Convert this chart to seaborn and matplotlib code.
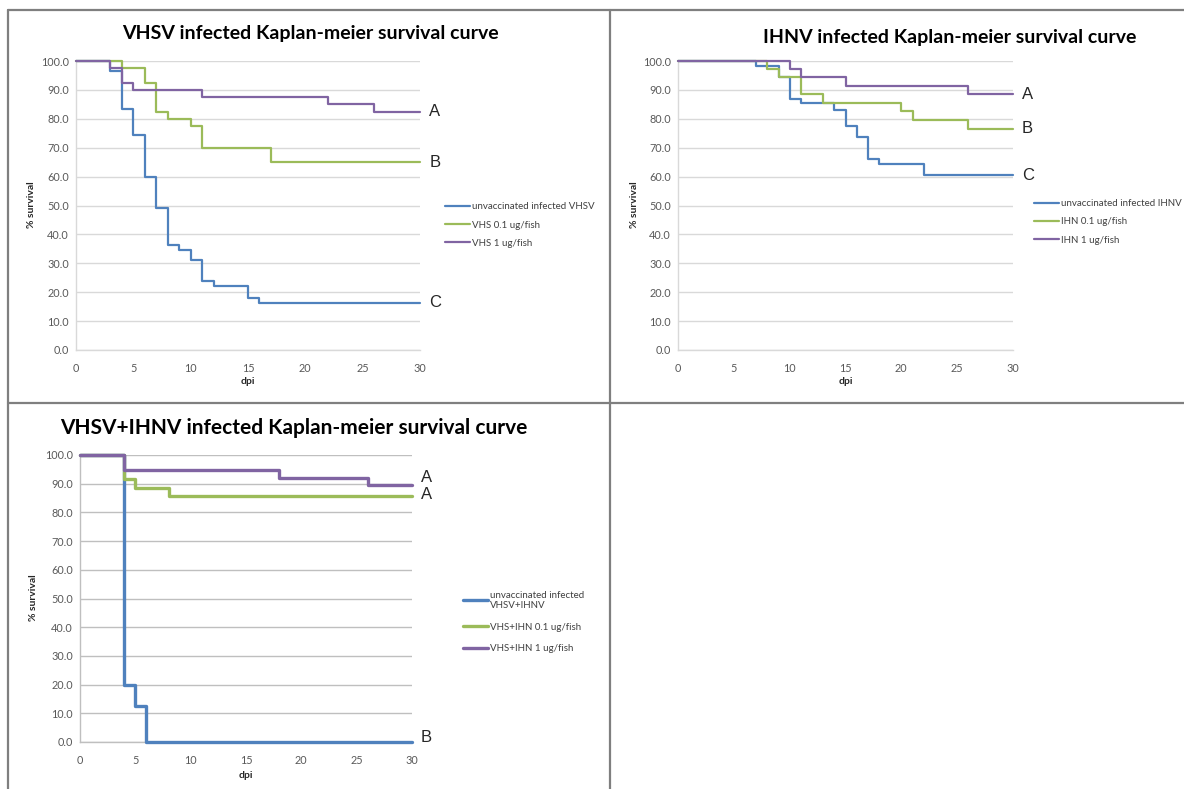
import matplotlib
matplotlib.use("Agg")
import matplotlib.pyplot as plt
from matplotlib.lines import Line2D
import seaborn as sns
import pandas as pd

# ---------------- data ----------------
days_vhsv_unvac = [0, 3, 4, 5, 6, 7, 8, 9, 10, 11, 12, 15, 16, 30]
surv_vhsv_unvac = [100, 96.5, 83.5, 74.5, 60, 49, 36.5, 34.5, 31, 24, 22, 18, 16.3, 16.3]
days_vhs01 = [0, 4, 6, 7, 8, 10, 11, 17, 30]
surv_vhs01 = [100, 97.5, 92.5, 82.5, 80, 77.5, 70, 65, 65]
days_vhs1 = [0, 3, 4, 5, 11, 22, 26, 30]
surv_vhs1 = [100, 97.5, 92.5, 90, 87.5, 85, 82.5, 82.5]

days_ihnv_unvac = [0, 7, 9, 10, 11, 14, 15, 16, 17, 18, 22, 30]
surv_ihnv_unvac = [100, 98.3, 94.6, 87, 85.3, 83.2, 77.5, 73.6, 66.2, 64.2, 60.4, 60.4]
days_ihn01 = [0, 8, 9, 11, 13, 20, 21, 26, 30]
surv_ihn01 = [100, 97.2, 94.4, 88.6, 85.5, 82.6, 79.7, 76.6, 76.6]
days_ihn1 = [0, 10, 11, 15, 26, 30]
surv_ihn1 = [100, 97.2, 94.4, 91.5, 88.5, 88.5]

days_mix_unvac = [0, 4, 5, 6, 30]
surv_mix_unvac = [100, 20, 12.5, 0, 0]
days_mix01 = [0, 4, 5, 8, 30]
surv_mix01 = [100, 91.5, 88.6, 85.7, 85.7]
days_mix1 = [0, 4, 18, 26, 30]
surv_mix1 = [100, 94.7, 92.1, 89.5, 89.5]

labels_vhsv = ["unvaccinated infected VHSV", "VHS 0.1 ug/fish", "VHS 1 ug/fish"]
labels_ihnv = ["unvaccinated infected IHNV", "IHN 0.1 ug/fish", "IHN 1 ug/fish"]
labels_mix = ["unvaccinated infected\nVHSV+IHNV", "VHS+IHN 0.1 ug/fish", "VHS+IHN 1 ug/fish"]

titles = ["VHSV infected Kaplan-meier survival curve",
          "IHNV infected Kaplan-meier survival curve",
          "VHSV+IHNV infected Kaplan-meier survival curve"]

# significance letters: (text, y position)
letters_vhsv = [("A", 82.5), ("B", 65), ("C", 16.3)]
letters_ihnv = [("A", 88.5), ("B", 76.6), ("C", 60.4)]
letters_mix = [("A", 92.3), ("A", 86.4), ("B", 1.7)]

yticks = [0, 10, 20, 30, 40, 50, 60, 70, 80, 90, 100]
xticks = [0, 5, 10, 15, 20, 25, 30]

colors = ["#4F81BD", "#9BBB59", "#8064A2"]


def make_df(series, labels):
    rows = []
    for (d, s), lab in zip(series, labels):
        for x, y in zip(d, s):
            rows.append({"dpi": x, "surv": y, "group": lab})
    return pd.DataFrame(rows)


df_vhsv = make_df([(days_vhsv_unvac, surv_vhsv_unvac), (days_vhs01, surv_vhs01),
                   (days_vhs1, surv_vhs1)], labels_vhsv)
df_ihnv = make_df([(days_ihnv_unvac, surv_ihnv_unvac), (days_ihn01, surv_ihn01),
                   (days_ihn1, surv_ihn1)], labels_ihnv)
df_mix = make_df([(days_mix_unvac, surv_mix_unvac), (days_mix01, surv_mix01),
                  (days_mix1, surv_mix1)], labels_mix)

# ---------------- figure ----------------
sns.set_theme(style="white")
plt.rcParams["font.family"] = ["Lato", "DejaVu Sans"]

W, H = 1184, 789
fig = plt.figure(figsize=(W / 100, H / 100), dpi=100)
fig.patch.set_facecolor("white")


def px_axes(x0, y0, x1, y1):
    return fig.add_axes([x0 / W, 1 - y1 / H, (x1 - x0) / W, (y1 - y0) / H])


panels = [
    dict(df=df_vhsv, labels=labels_vhsv, letters=letters_vhsv, box=(76, 61, 420, 350),
         title=titles[0], tpos=(310, 33), tsize=14, leg=(445, 225), grid="#D9D9D9", lw=1.6,
         ylab=(32, 205), xlab=(248, 381), lspace=0.95),
    dict(df=df_ihnv, labels=labels_ihnv, letters=letters_ihnv, box=(678, 61, 1013, 350),
         title=titles[1], tpos=(950, 37), tsize=14, leg=(1034, 222), grid="#D9D9D9", lw=1.6,
         ylab=(634, 205), xlab=(846, 381), lspace=0.95),
    dict(df=df_mix, labels=labels_mix, letters=letters_mix, box=(80, 455, 412, 742),
         title=titles[2], tpos=(294, 428), tsize=15, leg=(463, 622), grid="#BFBFBF", lw=2.4,
         ylab=(34, 598), xlab=(246, 776), lspace=1.3),
]

for p in panels:
    ax = px_axes(*p["box"])
    sns.lineplot(data=p["df"], x="dpi", y="surv", hue="group", hue_order=p["labels"],
                 palette=colors, drawstyle="steps-post", estimator=None, errorbar=None,
                 linewidth=p["lw"], ax=ax, legend=True, clip_on=False, zorder=4)
    ax.set_xlim(0, 30)
    ax.set_ylim(0, 100)
    ax.set_yticks(yticks)
    ax.set_yticklabels([f"{v:.1f}" for v in yticks])
    ax.set_xticks(xticks)
    ax.set_xticklabels([str(v) for v in xticks])
    ax.tick_params(axis="both", labelsize=7.8, labelcolor="#595959", length=0, pad=5)
    ax.tick_params(axis="x", length=3, color=p["grid"], direction="out", pad=6)
    ax.grid(axis="y", color=p["grid"], linewidth=1.0)
    ax.set_axisbelow(True)
    for side in ["top", "right"]:
        ax.spines[side].set_visible(False)
    ax.spines["left"].set_color(p["grid"])
    ax.spines["bottom"].set_color(p["grid"])
    ax.spines["left"].set_linewidth(1.0)
    ax.spines["bottom"].set_linewidth(1.0)
    ax.set_xlabel("")
    ax.set_ylabel("")
    fig.text(p["ylab"][0] / W, 1 - p["ylab"][1] / H, "% survival", rotation=90,
             ha="center", va="center", fontsize=7.5, fontweight="bold", color="#262626")
    fig.text(p["xlab"][0] / W, 1 - p["xlab"][1] / H, "dpi", ha="center", va="center",
             fontsize=7.5, fontweight="bold", color="#262626")
    fig.text(p["tpos"][0] / W, 1 - p["tpos"][1] / H, p["title"], ha="center", va="center",
             fontsize=p["tsize"], fontweight="bold", color="black")
    for txt, yv in p["letters"]:
        ax.text(30.8, yv, txt, ha="left", va="center", fontsize=12, color="#262626",
                family=["Liberation Sans", "DejaVu Sans"])
    handles, labs = ax.get_legend_handles_labels()
    for h in handles:
        h.set_linewidth(p["lw"])
    ax.legend(handles, labs, loc="center left",
              bbox_to_anchor=(p["leg"][0] / W, 1 - p["leg"][1] / H),
              bbox_transform=fig.transFigure, frameon=False, fontsize=7,
              labelcolor="#404040", handlelength=2.6, handletextpad=0.2,
              labelspacing=p["lspace"], borderpad=0, borderaxespad=0)

# panel borders
border = dict(color="#7F7F7F", linewidth=1.6, transform=fig.transFigure)
fig.add_artist(Line2D([8 / W, 1], [1 - 10 / H, 1 - 10 / H], **border))
fig.add_artist(Line2D([8 / W, 8 / W], [0, 1 - 10 / H], **border))
fig.add_artist(Line2D([610 / W, 610 / W], [0, 1 - 10 / H], **border))
fig.add_artist(Line2D([8 / W, 1], [1 - 403 / H, 1 - 403 / H], **border))

fig.savefig("out.png", dpi=100)
